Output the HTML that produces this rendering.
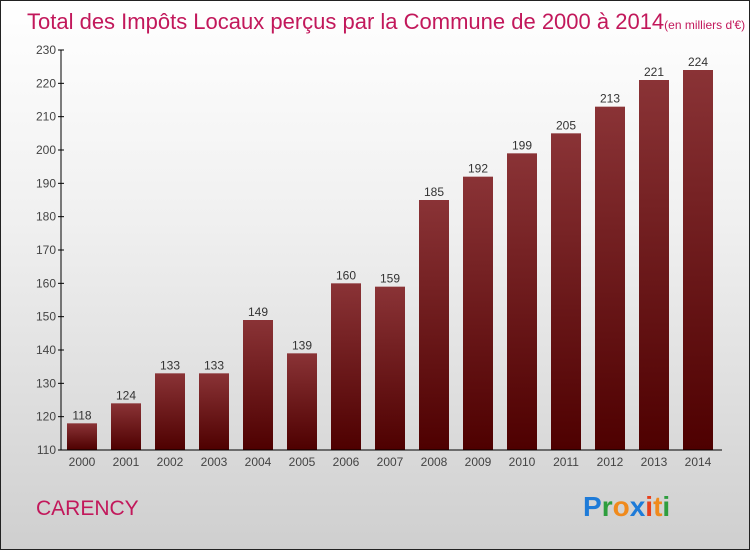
<!DOCTYPE html>
<html><head><meta charset="utf-8"><style>
body{margin:0;}
#c{width:748px;height:548px;border:1px solid #222;background:linear-gradient(#ffffff,#f0f0f0 40%,#cfcfcf);position:relative;overflow:hidden;font-family:"Liberation Sans",sans-serif;}
</style></head><body>
<div id="c">
<svg width="748" height="548" id="svg">
<defs><linearGradient id="g" x1="0" y1="0" x2="0" y2="1"><stop offset="0" stop-color="#8a3336"/><stop offset="1" stop-color="#4e0000"/></linearGradient></defs>
<text x="26" y="28" font-size="22" fill="#c2185b">Total des Impôts Locaux perçus par la Commune de 2000 à 2014<tspan font-size="12">(en milliers d'€)</tspan></text>
<text x="35" y="514" font-size="21" fill="#c2185b">CARENCY</text>
<text x="582" y="515" font-size="28" font-weight="bold"><tspan fill="#1e7bd8">P</tspan><tspan fill="#2e9e3e">r</tspan><tspan fill="#f08a1c">o</tspan><tspan fill="#1e7bd8">x</tspan><tspan fill="#e8401c">i</tspan><tspan fill="#f08a1c">t</tspan><tspan fill="#2e9e3e">i</tspan></text>
<g id="plot"></g>
</svg>
</div>
<script>
const years=["2000","2001","2002","2003","2004","2005","2006","2007","2008","2009","2010","2011","2012","2013","2014"];
const values=[118,124,133,133,149,139,160,159,185,192,199,205,213,221,224];
const ticks=[110,120,130,140,150,160,170,180,190,200,210,220,230];
const NS="http://www.w3.org/2000/svg";
const g=document.getElementById('plot');
const y=v=>449-(v-110)*400/120;
const x=i=>59+22+44*i;
function el(t,a){const e=document.createElementNS(NS,t);for(const k in a)e.setAttribute(k,a[k]);g.appendChild(e);return e;}
ticks.forEach(t=>{
 const l=el('line',{x1:57,x2:63,y1:y(t),y2:y(t),stroke:'#000'});
 
 
 const tx=el('text',{x:55,y:y(t)+4,'text-anchor':'end','font-size':12,fill:'#444'});
 tx.textContent=t;
 
 
});
values.forEach((v,i)=>{
 const r=el('rect',{x:x(i)-15,y:y(v),width:30,height:y(110)-y(v),fill:'url(#g)'});
 
 
 const vt=el('text',{x:x(i),y:y(v)-4,'text-anchor':'middle','font-size':12,fill:'#333'});
 vt.textContent=v;
 
 
 const xt=el('text',{x:x(i),y:465,'text-anchor':'middle','font-size':12,fill:'#444'});
 xt.textContent=years[i];
 
 
});
const ya=el('line',{x1:60,x2:60,y1:y(230),y2:y(110),stroke:'#000'});


const xa=el('line',{x1:60,x2:721,y1:y(110),y2:y(110),stroke:'#000'});


</script>
</body></html>
